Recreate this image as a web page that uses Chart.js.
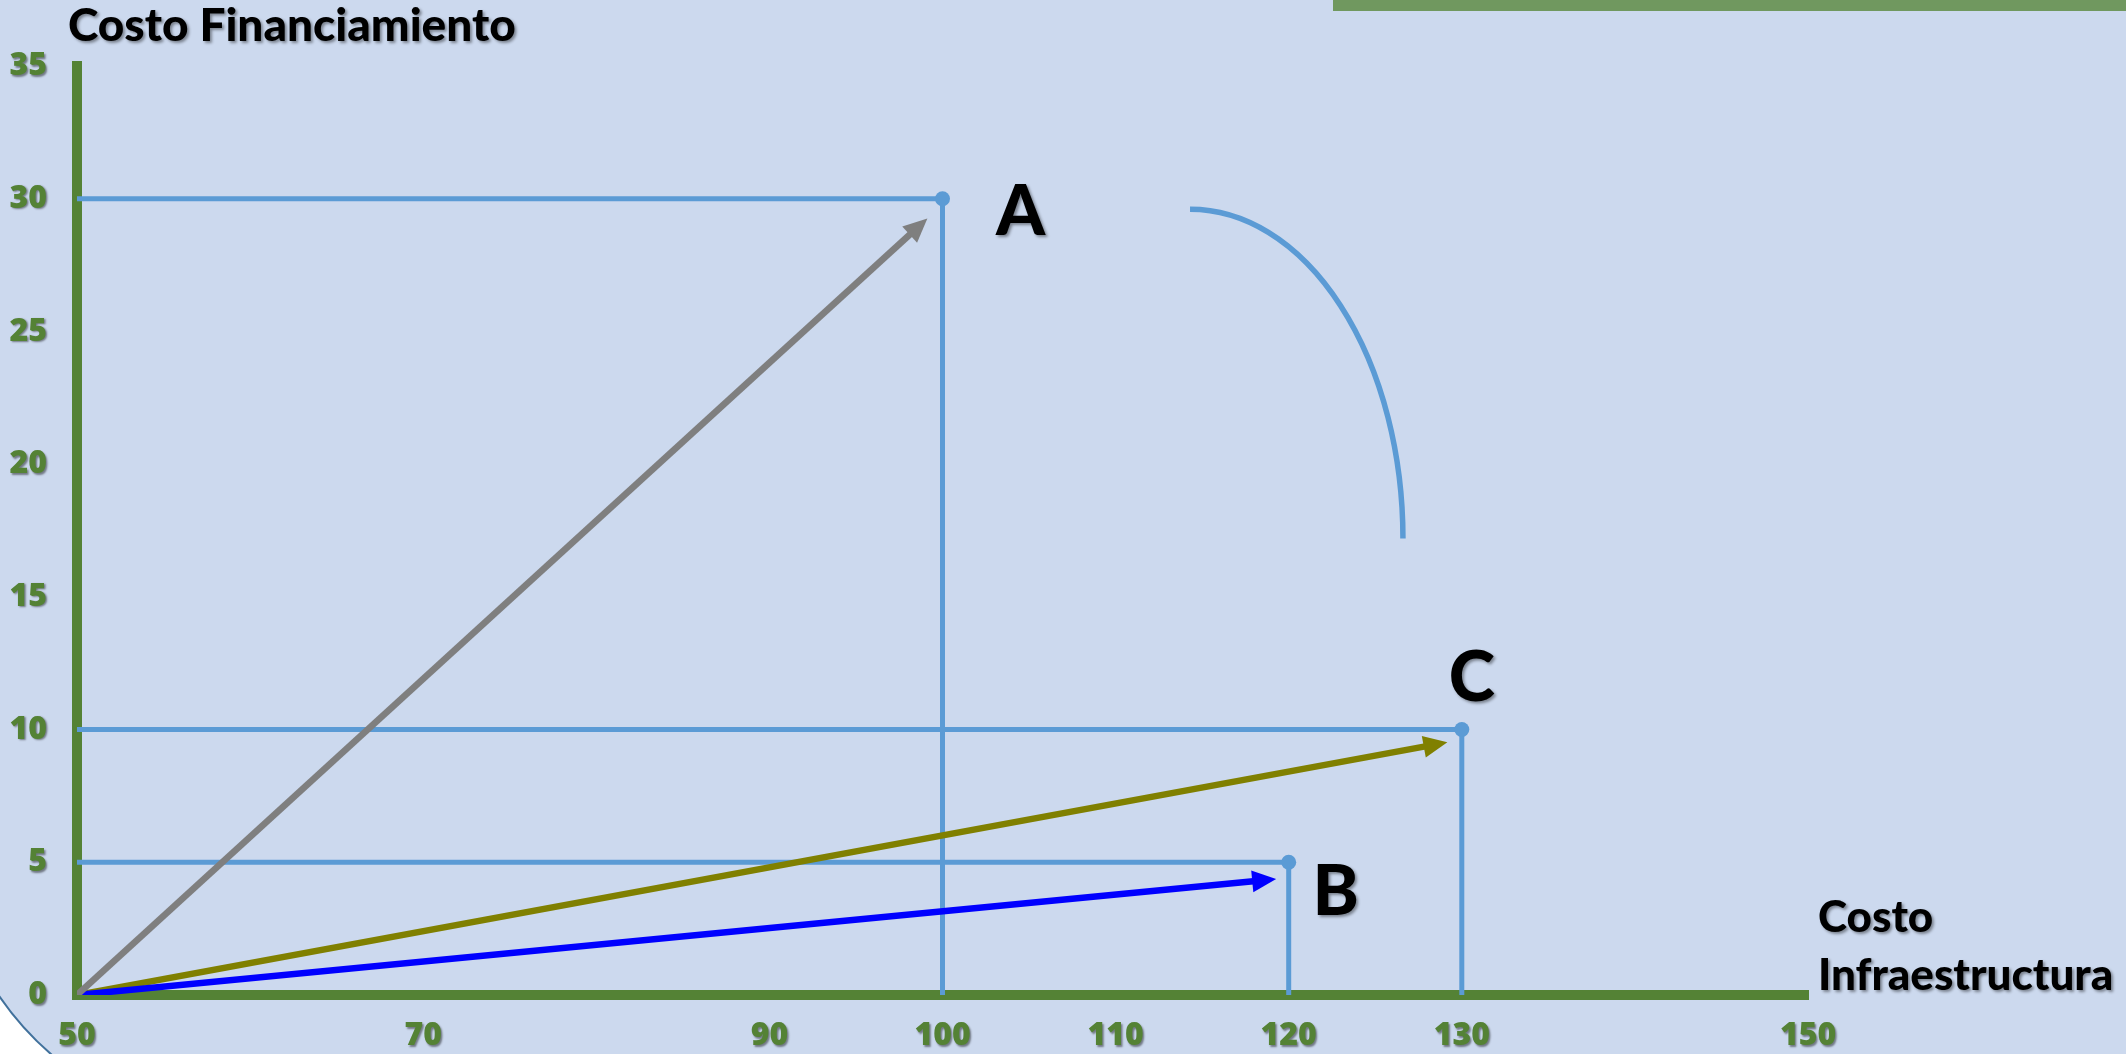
<!DOCTYPE html>
<html>
<head>
<meta charset="utf-8">
<script src="https://cdn.jsdelivr.net/npm/chart.js@4.4.1/dist/chart.umd.min.js"></script>
<style>
  html, body { margin: 0; padding: 0; background: #ccd9ee; }
  #wrap { width: 2126px; height: 1054px; }
</style>
</head>
<body>
<div id="wrap"><canvas id="chart"></canvas></div>
<script>
// Datos
const xTicks = [50, 70, 90, 100, 110, 120, 130, 150];
const yTicks = [0, 5, 10, 15, 20, 25, 30, 35];
const pointNames = ['A', 'B', 'C'];
const pointX = [100, 120, 130];
const pointY = [30, 5, 10];
// fin de las flechas (todas salen del origen 50,0)
const arrowStartX = 50;
const arrowStartY = 0;
const arrowEndX = [98.7, 118.7, 128.6];
const arrowEndY = [29.0, 4.33, 9.45];

// estilos
const GREEN = '#548235';
const LINE_BLUE = '#5b9bd5';
const arrowColors = ['#7f7f7f', '#0000ff', '#808000'];
const labelOffsets = [[78, 14], [47, 30], [10, -51]];
const TITLE_FONT = 'Lato';
const TICK_FONT = 'Open Sans';

const datasets = [];

// flechas primero (quedan encima)
arrowEndX.forEach((ex, i) => {
  datasets.push({
    label: 'flecha ' + pointNames[i],
    isArrow: true,
    data: [{ x: arrowStartX, y: arrowStartY }, { x: ex, y: arrowEndY[i] }],
    borderColor: arrowColors[i],
    backgroundColor: arrowColors[i],
    borderWidth: 6.5,
    borderCapStyle: 'butt',
    pointRadius: 0
  });
});

// lineas de referencia de cada punto
pointX.forEach((px, i) => {
  datasets.push({
    label: pointNames[i],
    data: [{ x: xTicks[0], y: pointY[i] }, { x: px, y: pointY[i] }, { x: px, y: yTicks[0] }],
    borderColor: LINE_BLUE,
    borderWidth: 5,
    pointRadius: [0, 7.5, 0],
    pointBackgroundColor: LINE_BLUE,
    pointBorderWidth: 0
  });
});

// fondo de la diapositiva
const slideBg = {
  id: 'slideBg',
  beforeDraw(chart) {
    const ctx = chart.ctx;
    ctx.save();
    ctx.fillStyle = '#ccd9ee';
    ctx.fillRect(0, 0, chart.width, chart.height);
    // barra verde arriba a la derecha
    ctx.fillStyle = '#70985f';
    ctx.fillRect(1333, 0, chart.width - 1333, 11);
    // esquina blanca abajo a la izquierda
    const a1 = Math.atan2(993 - 827, 0 - 247);
    const a2 = Math.atan2(1054 - 827, 53 - 247);
    ctx.beginPath();
    ctx.moveTo(0, chart.height);
    ctx.lineTo(0, 993);
    ctx.arc(247, 827, 300, a1, a2, true);
    ctx.closePath();
    ctx.fillStyle = '#ffffff';
    ctx.fill();
    ctx.beginPath();
    ctx.arc(247, 827, 300, a1, a2, true);
    ctx.strokeStyle = '#41719c';
    ctx.lineWidth = 2;
    ctx.stroke();
    ctx.restore();
  }
};

const arrows = {
  id: 'arrows',
  afterDatasetsDraw(chart) {
    const ctx = chart.ctx;
    const xs = chart.scales.x, ys = chart.scales.y;
    ctx.save();
    // arco decorativo
    ctx.beginPath();
    const cx = xs.getPixelForValue(114.3), cy = ys.getPixelForValue(17.2);
    const rx = xs.getPixelForValue(126.6) - cx, ry = cy - ys.getPixelForValue(29.6);
    ctx.ellipse(cx, cy, rx, ry, 0, -Math.PI / 2, 0);
    ctx.strokeStyle = LINE_BLUE;
    ctx.lineWidth = 5.5;
    ctx.stroke();

    chart.data.datasets.forEach((ds, i) => {
      if (!ds.isArrow) return;
      const pts = chart.getDatasetMeta(i).data;
      const p0 = pts[0], p1 = pts[pts.length - 1];
      const ang = Math.atan2(p1.y - p0.y, p1.x - p0.x);
      const ux = Math.cos(ang), uy = Math.sin(ang);
      const tipX = p1.x + ux * 10, tipY = p1.y + uy * 10;
      const bx = tipX - ux * 24, by = tipY - uy * 24;
      ctx.beginPath();
      ctx.moveTo(tipX, tipY);
      ctx.lineTo(bx - uy * 11, by + ux * 11);
      ctx.lineTo(bx + uy * 11, by - ux * 11);
      ctx.closePath();
      ctx.fillStyle = ds.borderColor;
      ctx.fill();
    });
    ctx.restore();
    // sombra para las etiquetas de los ejes (se dibujan despues, z:1)
    ctx.shadowColor = 'rgba(0,0,0,0.45)';
    ctx.shadowOffsetX = 1.5;
    ctx.shadowOffsetY = 1.5;
    ctx.shadowBlur = 2;
  },
  afterDraw(chart) {
    const ctx = chart.ctx;
    ctx.shadowColor = 'transparent';
    ctx.save();
    ctx.shadowColor = 'rgba(0,0,0,0.4)';
    ctx.shadowOffsetX = 2;
    ctx.shadowOffsetY = 2;
    ctx.shadowBlur = 3;
    ctx.fillStyle = '#000';
    ctx.textAlign = 'left';
    ctx.textBaseline = 'alphabetic';
    ctx.font = '900 46px ' + TITLE_FONT;
    ctx.fillText('Costo Financiamiento', 68, 41);
    ctx.font = '900 44px ' + TITLE_FONT;
    ctx.fillText('Costo', 1818, 932);
    ctx.fillText('Infraestructura', 1818, 990);

    ctx.font = '900 70px ' + TITLE_FONT;
    ctx.textAlign = 'center';
    ctx.textBaseline = 'middle';
    const xs = chart.scales.x, ys = chart.scales.y;
    pointNames.forEach((n, i) => {
      const px = xs.getPixelForValue(pointX[i]) + labelOffsets[i][0];
      const py = ys.getPixelForValue(pointY[i]) + labelOffsets[i][1];
      ctx.fillText(n, px, py);
    });
    ctx.restore();
  }
};

new Chart(document.getElementById('chart'), {
  type: 'line',
  data: { datasets },
  plugins: [slideBg, arrows],
  options: {
    responsive: true,
    maintainAspectRatio: false,
    animation: false,
    layout: { padding: { top: 66, right: 318, left: 0, bottom: 0 } },
    plugins: { legend: { display: false }, tooltip: { enabled: false } },
    elements: { line: { tension: 0 } },
    scales: {
      x: {
        type: 'linear',
        min: xTicks[0],
        max: xTicks[xTicks.length - 1],
        afterBuildTicks: s => { s.ticks = xTicks.map(v => ({ value: v })); },
        afterFit: s => { s.height = 59; },
        grid: { display: false, drawTicks: false },
        border: { display: true, color: GREEN, width: 10 },
        ticks: {
          autoSkip: false,
          maxRotation: 0,
          padding: 22,
          color: GREEN,
          font: { family: TICK_FONT, size: 32, weight: '800' },
          z: 1
        }
      },
      y: {
        type: 'linear',
        min: yTicks[0],
        max: yTicks[yTicks.length - 1],
        afterBuildTicks: s => { s.ticks = yTicks.map(v => ({ value: v })); },
        afterFit: s => { s.width = 77; },
        grid: { display: false, drawTicks: false },
        border: { display: true, color: GREEN, width: 10 },
        ticks: {
          padding: 30,
          color: GREEN,
          font: { family: TICK_FONT, size: 32, weight: '800' },
          z: 1
        }
      }
    }
  }
});
</script>
</body>
</html>
